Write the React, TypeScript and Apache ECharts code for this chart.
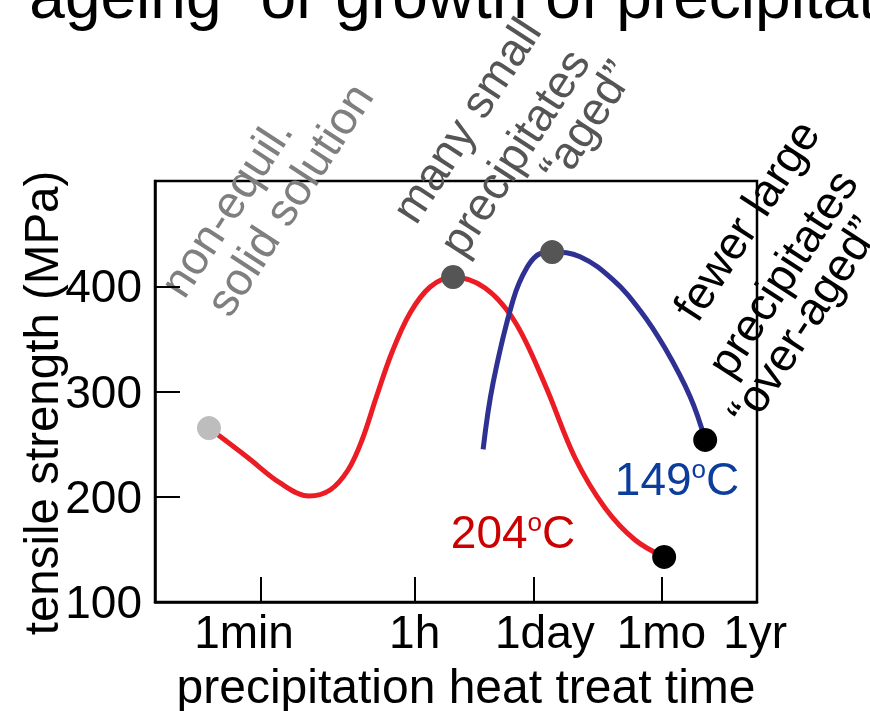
import React, { useEffect, useRef } from "react";
import * as echarts from "echarts";

// x values are log10(seconds) of precipitation heat treat time
const timeLabels = ["1min", "1h", "1day", "1mo", "1yr"];
const timeSeconds = [60, 3600, 86400, 2592000, 31536000];
const strengthTicks = [100, 200, 300, 400];

const red204Time = [1.175, 1.616, 1.998, 2.334, 2.577, 2.785, 2.947, 3.109, 3.295, 3.503, 3.735, 4.001, 4.372, 4.719, 5.067, 5.414, 5.761, 6.109, 6.445];
const red204Strength = [265.3, 237.8, 213.1, 200.7, 206.4, 225.4, 253.9, 293.8, 337.5, 374.6, 399.3, 408.8, 398.3, 366, 306.2, 236.8, 189.3, 158.9, 142.8];
const red204Peak = 11;

const blue149Time = [4.349, 4.464, 4.696, 4.858, 5.009, 5.148, 5.472, 5.854, 6.167, 6.456, 6.746, 6.92];
const blue149Strength = [245, 308, 387, 418, 431, 432.5, 428, 406, 377, 341, 295, 254];
const blue149Peak = 5;

const FONT = '"Liberation Sans", Arial, sans-serif';

export default function App() {
  const ref = useRef<HTMLDivElement>(null);
  useEffect(() => {
    if (!ref.current) return;
    const chart = echarts.init(ref.current, null, { renderer: "svg" });
    const pt = (t: number[], s: number[], i: number) => [t[i], s[i]];
    const red = red204Time.map((t, i) => [t, red204Strength[i]]);
    const blue = blue149Time.map((t, i) => [t, blue149Strength[i]]);
    const tickVals = timeSeconds.map((s) => Math.log10(s));
    const nudge: Record<string, number[]> = {
      "1min": [0, 34, 0, 0],
      "1day": [0, 0, 0, 22],
    };
    const rich: Record<string, any> = {};
    timeLabels.forEach((l, i) => {
      rich["t" + i] = { fontSize: 46, fontFamily: FONT, color: "#000", padding: nudge[l] || [0, 0, 0, 0] };
    });
    const deg = (57 * Math.PI) / 180;
    const ann = (text: string, x: number, y: number, fill: string) => ({
      type: "text",
      x,
      y,
      rotation: deg,
      style: {
        text,
        fill,
        fontSize: 46,
        fontFamily: FONT,
        textAlign: "center",
        textVerticalAlign: "middle",
        align: "center",
        verticalAlign: "middle",
      },
    });
    const tempLabel = (num: string, x: number, y: number, fill: string) => ({
      type: "text",
      x,
      y,
      style: {
        text: `{n|${num}}{s|o}{n|C}`,
        textAlign: "center",
        textVerticalAlign: "middle",
        align: "center",
        verticalAlign: "middle",
        rich: {
          n: { fontSize: 46, fontFamily: FONT, fill, color: fill },
          s: { fontSize: 26, fontFamily: FONT, fill, color: fill, verticalAlign: "top", lineHeight: 26 },
        },
      },
    });
    const dot = (color: string, data: number[][]) => ({
      type: "scatter",
      symbolSize: 24,
      itemStyle: { color, opacity: 1 },
      data,
      z: 3,
    });
    chart.setOption({
      animation: false,
      grid: {
        left: 155,
        top: 181,
        right: 113,
        bottom: 109,
        show: true,
        borderColor: "#000",
        borderWidth: 2.5,
        backgroundColor: "transparent",
      },
      xAxis: {
        type: "value",
        min: 0.55,
        max: 7.52,
        axisLine: { show: true, lineStyle: { color: "#000", width: 2.5 } },
        axisTick: {
          show: true,
          inside: true,
          length: 25,
          customValues: tickVals.slice(0, 4),
          lineStyle: { color: "#000", width: 2 },
        },
        axisLabel: {
          customValues: tickVals,
          margin: 7,
          formatter: (v: number) => {
            const i = tickVals.findIndex((t) => Math.abs(t - v) < 1e-6);
            return i >= 0 ? `{t${i}|${timeLabels[i]}}` : "";
          },
          rich,
          fontSize: 46,
          fontFamily: FONT,
          color: "#000",
        },
        splitLine: { show: false },
      },
      yAxis: {
        type: "value",
        min: 100,
        max: 500,
        interval: 100,
        axisLine: { show: true, lineStyle: { color: "#000", width: 2.5 } },
        axisTick: { show: true, inside: true, length: 25, lineStyle: { color: "#000", width: 2 } },
        axisLabel: {
          margin: 13,
          fontSize: 46,
          fontFamily: FONT,
          color: "#000",
          formatter: (v: number) => (strengthTicks.includes(v) ? String(v) : ""),
        },
        splitLine: { show: false },
      },
      series: [
        {
          type: "line",
          data: red,
          smooth: 0.35,
          showSymbol: false,
          lineStyle: { color: "#ec1c24", width: 5 },
          z: 2,
        },
        {
          type: "line",
          data: blue,
          smooth: 0.4,
          showSymbol: false,
          lineStyle: { color: "#2e3192", width: 5 },
          z: 2,
        },
        dot("#bdbdbd", [pt(red204Time, red204Strength, 0)]),
        dot("#555555", [pt(red204Time, red204Strength, red204Peak), pt(blue149Time, blue149Strength, blue149Peak)]),
        dot("#000000", [
          pt(red204Time, red204Strength, red204Time.length - 1),
          pt(blue149Time, blue149Strength, blue149Time.length - 1),
        ]),
      ],
      graphic: [
        {
          type: "text",
          x: 8,
          y: -4,
          style: {
            text: "\u201Cageing\u201D or growth of precipitates",
            fill: "#000",
            fontSize: 64,
            fontFamily: FONT,
            textAlign: "left",
            textVerticalAlign: "middle",
            align: "left",
            verticalAlign: "middle",
          },
        },
        {
          type: "text",
          x: 466,
          y: 686,
          style: {
            text: "precipitation heat treat time",
            fill: "#000",
            fontSize: 48,
            fontFamily: FONT,
            textAlign: "center",
            textVerticalAlign: "middle",
            align: "center",
            verticalAlign: "middle",
          },
        },
        {
          type: "text",
          x: 41,
          y: 403,
          rotation: Math.PI / 2,
          style: {
            text: "tensile strength (MPa)",
            fill: "#000",
            fontSize: 47.5,
            fontFamily: FONT,
            textAlign: "center",
            textVerticalAlign: "middle",
            align: "center",
            verticalAlign: "middle",
          },
        },
        ann("non-equil.", 226, 207, "#7f7f7f"),
        ann("solid solution", 289, 199, "#7f7f7f"),
        ann("many small", 466, 120, "#555555"),
        ann("precipitates", 514, 152, "#555555"),
        ann("\u201Caged\u201D", 586, 121, "#555555"),
        ann("fewer large", 746, 220, "#000000"),
        ann("precipitates", 782, 273, "#000000"),
        ann("\u201Cover-aged\u201D", 803, 321, "#000000"),
        tempLabel("204", 513, 532, "#cc0000"),
        tempLabel("149", 677, 479, "#0b3d9c"),
      ],
    });
    return () => chart.dispose();
  }, []);
  return <div ref={ref} style={{ position: "fixed", left: 0, top: 0, width: 870, height: 711 }} />;
}
